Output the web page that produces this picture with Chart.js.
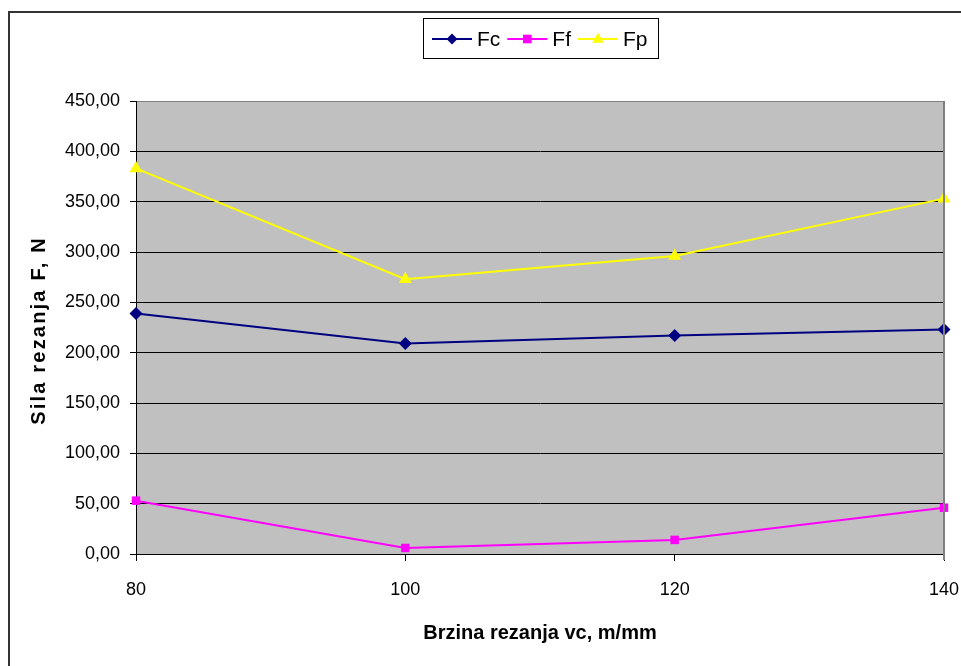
<!DOCTYPE html>
<html>
<head>
<meta charset="utf-8">
<script src="https://cdn.jsdelivr.net/npm/chart.js@4"></script>
<style>
  html, body { margin: 0; padding: 0; background: #fff; }
  #wrap { width: 961px; height: 666px; position: relative; }
</style>
</head>
<body>
<div id="wrap"><canvas id="forceChart"></canvas></div>
<script>
// brzina rezanja (x) i sile
const speeds = [80, 100, 120, 140];
const fcValues = [239, 209, 217, 223];
const ffValues = [53, 6, 14, 46];
const fpValues = [383, 273, 296, 353];
const yTicks = [0, 50, 100, 150, 200, 250, 300, 350, 400, 450];
const yTitle = "Sila rezanja F, N";

const FONT = "'Liberation Sans', Arial, sans-serif";

const series = [
  { label: "Fc", values: fcValues, color: "#000080", style: "rectRot", radius: 6.5 },
  { label: "Ff", values: ffValues, color: "#FF00FF", style: "rect", radius: 6 },
  { label: "Fp", values: fpValues, color: "#FFFF00", style: "triangle", radius: 7.5 },
];

function drawMarker(ctx, style, x, y, r, color) {
  ctx.fillStyle = color;
  ctx.beginPath();
  if (style === "rectRot") {
    const d = r * 0.85;
    ctx.moveTo(x, y - d); ctx.lineTo(x + d, y); ctx.lineTo(x, y + d); ctx.lineTo(x - d, y);
  } else if (style === "rect") {
    const s = r * 0.72;
    ctx.rect(x - s, y - s, 2 * s, 2 * s);
  } else {
    const d = r * 0.85;
    ctx.moveTo(x, y - d); ctx.lineTo(x + d * 0.9, y + d * 0.6); ctx.lineTo(x - d * 0.9, y + d * 0.6);
  }
  ctx.closePath();
  ctx.fill();
}

const chartFrame = {
  id: "chartFrame",
  beforeDraw: (chart) => {
    const { ctx, chartArea: a } = chart;
    ctx.save();
    ctx.fillStyle = "#fff";
    ctx.fillRect(0, 0, chart.width, chart.height);
    ctx.fillStyle = "#C0C0C0";
    ctx.fillRect(a.left, a.top, a.right - a.left, a.bottom - a.top);
    ctx.restore();
  },
  afterDraw: (chart) => {
    const { ctx, chartArea: a } = chart;
    ctx.save();
    // gray plot border on the right
    ctx.strokeStyle = "#808080";
    ctx.lineWidth = 2;
    ctx.beginPath();
    ctx.moveTo(a.right, a.top);
    ctx.lineTo(a.right, a.bottom + 6);
    ctx.stroke();
    // outer frame (left + top)
    ctx.strokeStyle = "#333";
    ctx.lineWidth = 2;
    ctx.beginPath();
    ctx.moveTo(9, chart.height);
    ctx.lineTo(9, 12);
    ctx.lineTo(chart.width, 12);
    ctx.stroke();

    // y axis title, spaced out like the original
    ctx.save();
    ctx.translate(39, (a.top + a.bottom) / 2 + 3);
    ctx.rotate(-Math.PI / 2);
    ctx.font = "bold 20px " + FONT;
    ctx.letterSpacing = "2.2px";
    ctx.fillStyle = "#000";
    ctx.textAlign = "center";
    ctx.textBaseline = "middle";
    ctx.fillText(yTitle, 0, 0);
    ctx.restore();

    // legend
    ctx.font = "21px " + FONT;
    ctx.textBaseline = "middle";
    ctx.textAlign = "left";
    let x = 432;
    let textEnd = x;
    const y = 39;
    series.forEach((s) => {
      ctx.strokeStyle = s.color;
      ctx.lineWidth = 2;
      ctx.beginPath();
      ctx.moveTo(x, y);
      ctx.lineTo(x + 40, y);
      ctx.stroke();
      drawMarker(ctx, s.style, x + 20, y, s.radius, s.color);
      ctx.fillStyle = "#000";
      ctx.fillText(s.label, x + 45, y + 1);
      textEnd = x + 45 + ctx.measureText(s.label).width;
      x = textEnd + 7;
    });
    ctx.strokeStyle = "#000";
    ctx.lineWidth = 1;
    ctx.strokeRect(423.5, 18.5, Math.round(textEnd + 11) - 423, 40);
    ctx.restore();
  },
};

new Chart(document.getElementById("forceChart"), {
  type: "line",
  data: {
    datasets: series.map((s) => ({
      label: s.label,
      data: speeds.map((v, i) => ({ x: v, y: s.values[i] })),
      borderColor: s.color,
      backgroundColor: s.color,
      borderWidth: 2,
      pointStyle: s.style,
      pointRadius: s.radius,
      pointHoverRadius: s.radius,
      pointBorderWidth: 0,
      clip: false,
      tension: 0,
    })),
  },
  options: {
    responsive: true,
    maintainAspectRatio: false,
    animation: false,
    layout: { padding: { top: 101, right: 17, bottom: 0, left: 0 } },
    plugins: {
      legend: { display: false },
      tooltip: { enabled: false },
    },
    scales: {
      x: {
        type: "linear",
        min: 80,
        max: 140,
        afterFit: (scale) => {
          scale.height = 112;
          scale.paddingLeft = 0;
          scale.paddingRight = 0;
        },
        afterBuildTicks: (scale) => { scale.ticks = speeds.map((v) => ({ value: v })); },
        grid: { drawOnChartArea: false, drawTicks: true, tickLength: 7, color: "#000" },
        border: { color: "#000", width: 1 },
        ticks: {
          color: "#000",
          padding: 18,
          maxRotation: 0,
          autoSkip: false,
          font: { family: FONT, size: 18 },
        },
        title: {
          display: true,
          text: "Brzina rezanja vc, m/mm",
          color: "#000",
          font: { family: FONT, size: 20, weight: "bold" },
          padding: { top: 0, bottom: 21 },
        },
      },
      y: {
        min: 0,
        max: 450,
        afterFit: (scale) => { scale.width = 136; },
        afterBuildTicks: (scale) => { scale.ticks = yTicks.map((v) => ({ value: v })); },
        grid: {
          color: (c) => (c.tick && c.tick.value === 450 ? "#808080" : "#000"),
          lineWidth: 1,
          tickLength: 6,
          tickColor: "#000",
        },
        border: { color: "#000", width: 1 },
        ticks: {
          color: "#000",
          padding: 10,
          font: { family: FONT, size: 18 },
          callback: (v) => v.toFixed(2).replace(".", ","),
        },
        title: { display: false },
      },
    },
  },
  plugins: [chartFrame],
});
</script>
</body>
</html>
